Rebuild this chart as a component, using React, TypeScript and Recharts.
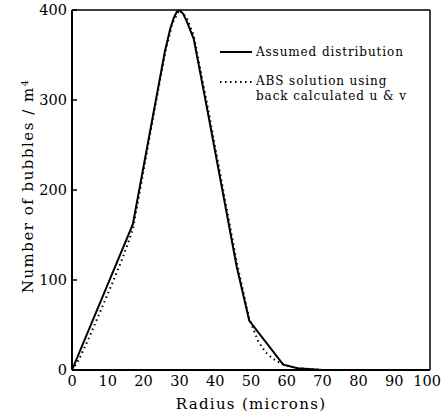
import { CartesianGrid, Legend, Line, LineChart, XAxis, YAxis } from 'recharts';

const radiusTicks = [0, 10, 20, 30, 40, 50, 60, 70, 80, 90, 100];
const countTicks = [0, 100, 200, 300, 400];

// assumed distribution (solid)
const assumedRadius = [0, 17, 26, 27.5, 28.5, 29.3, 30, 31, 32, 34, 38, 42, 46, 49.5, 59, 63, 70];
const assumedCount = [0, 162, 355, 380, 392, 398, 400, 396, 388, 368, 285, 200, 115, 55, 6, 2, 0];

// ABS solution using back calculated u & v (dotted)
const absRadius = [0, 2, 5, 8, 11, 14, 17, 20, 23, 26, 28, 30, 32, 34, 38, 42, 46, 49.5, 52, 54, 56, 58, 60, 63, 70];
const absCount = [0, 12, 38, 66, 94, 123, 156, 222, 288, 352, 385, 400, 392, 372, 290, 205, 120, 57, 32, 20, 13, 8, 5, 2, 0];

const assumedData = assumedRadius.map((r, i) => ({ radius: r, count: assumedCount[i] }));
const absData = absRadius.map((r, i) => ({ radius: r, count: absCount[i] }));

const serif = '"DejaVu Serif", serif';

function LeftTick({ x, y, payload }: any) {
  return (
    <g>
      <line x1={x} x2={x + 5} y1={y} y2={y} stroke="#000" strokeWidth={1.5} />
      <text x={x - 5} y={y} dy="0.35em" textAnchor="end" fontFamily={serif} fontSize={14.5} fill="#000">
        {payload.value}
      </text>
    </g>
  );
}

function RightTick({ x, y }: any) {
  return <line x1={x} x2={x - 5} y1={y} y2={y} stroke="#000" strokeWidth={1.5} />;
}

function BottomTick({ x, y, payload }: any) {
  // last label would run off the page edge, so pin it to the right
  const last = payload.value === radiusTicks[radiusTicks.length - 1];
  return (
    <text
      x={last ? x + 11 : x}
      y={y + 16}
      textAnchor={last ? 'end' : 'middle'}
      fontFamily={serif}
      fontSize={14.5}
      fill="#000"
    >
      {payload.value}
    </text>
  );
}

function TopTick({ x, y }: any) {
  return <line x1={x} x2={x} y1={y} y2={y + 3} stroke="#000" strokeWidth={1} />;
}

function LegendBox() {
  const text = { fontFamily: serif, fontSize: 12, letterSpacing: 0.9, color: '#000', lineHeight: '15px' };
  return (
    <div style={{ width: 210 }}>
      <div style={{ display: 'flex', alignItems: 'center', height: 16 }}>
        <svg width={34} height={6}>
          <line x1={1} x2={33} y1={3} y2={3} stroke="#000" strokeWidth={2} />
        </svg>
        <span style={{ ...text, marginLeft: 3 }}>Assumed distribution</span>
      </div>
      <div style={{ display: 'flex', alignItems: 'flex-start', marginTop: 14 }}>
        <svg width={34} height={15}>
          <line x1={1} x2={33} y1={8} y2={8} stroke="#000" strokeWidth={2} strokeDasharray="1.5 3.5" />
        </svg>
        <span style={{ ...text, marginLeft: 3 }}>
          ABS solution using
          <br />
          back calculated u &amp; v
        </span>
      </div>
    </div>
  );
}

export default function App() {
  return (
    <div style={{ position: 'absolute', left: 0, top: 0, background: '#fff' }}>
      <LineChart width={442} height={416} margin={{ top: 0, right: 2, bottom: 0, left: 0 }}>
        <CartesianGrid stroke="none" />
        <XAxis
          type="number"
          dataKey="radius"
          domain={[0, 100]}
          ticks={radiusTicks}
          height={46}
          allowDataOverflow
          tickSize={0}
          tickMargin={0}
          tick={<BottomTick />}
          axisLine={{ stroke: '#000', strokeWidth: 2 }}
          tickLine={false}
          interval={0}
          label={{ value: 'Radius (microns)', position: 'insideBottom', offset: 7, fontFamily: serif, fontSize: 15, letterSpacing: 1.3, fill: '#000' }}
        />
        <XAxis
          xAxisId="top"
          orientation="top"
          type="number"
          domain={[0, 100]}
          ticks={radiusTicks}
          height={10}
          tickSize={0}
          tickMargin={0}
          tick={<TopTick />}
          axisLine={{ stroke: '#000', strokeWidth: 1.5 }}
          tickLine={false}
          interval={0}
        />
        <YAxis
          type="number"
          domain={[0, 400]}
          ticks={countTicks}
          width={72}
          allowDataOverflow
          tickSize={0}
          tickMargin={0}
          tick={<LeftTick />}
          axisLine={{ stroke: '#000', strokeWidth: 2 }}
          tickLine={false}
          interval={0}
          label={{ value: 'Number of bubbles / m⁴', angle: -90, position: 'center', dx: -8, dy: -4, fontFamily: serif, fontSize: 15, letterSpacing: 1.5, fill: '#000' }}
        />
        <YAxis
          yAxisId="right"
          orientation="right"
          type="number"
          domain={[0, 400]}
          ticks={countTicks}
          width={10}
          tickSize={0}
          tickMargin={0}
          tick={<RightTick />}
          axisLine={{ stroke: '#000', strokeWidth: 1.5 }}
          tickLine={false}
          interval={0}
        />
        <Legend
          layout="vertical"
          align="center"
          verticalAlign="middle"
          content={<LegendBox />}
          wrapperStyle={{ position: 'absolute', left: 219, top: 44, width: 215 }}
        />
        <Line
          data={assumedData}
          dataKey="count"
          type="linear"
          stroke="#000"
          strokeWidth={2}
          dot={false}
          isAnimationActive={false}
        />
        <Line
          data={absData}
          dataKey="count"
          type="linear"
          stroke="#000"
          strokeWidth={2}
          strokeDasharray="1.5 3.5"
          dot={false}
          isAnimationActive={false}
        />
      </LineChart>
    </div>
  );
}
